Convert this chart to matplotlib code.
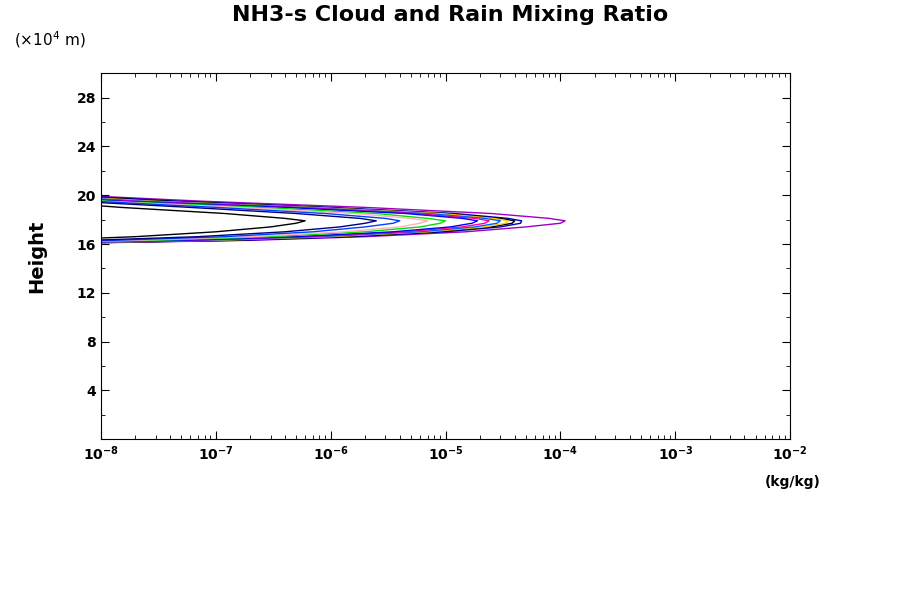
import matplotlib
matplotlib.use("Agg")
import matplotlib.pyplot as plt
from matplotlib.ticker import LogLocator, FixedLocator, NullFormatter

heights = [16.0, 16.1, 16.3, 16.6, 17.0, 17.4, 17.7, 17.9, 18.1, 18.5, 19.0, 19.5, 19.9]
profiles = [
    ("#a000c0", [1e-9, 1e-8, 2e-7, 2e-6, 1.5e-5, 5e-5, 1e-4, 1.1e-4, 8e-5, 2.5e-5, 2e-6, 8e-8, 1e-8]),
    ("#0000c0", [1e-9, 8e-9, 1.5e-7, 1.5e-6, 1e-5, 3e-5, 4.5e-5, 4.6e-5, 3.5e-5, 1.2e-5, 1e-6, 5e-8, 8e-9]),
    ("#000000", [1e-9, 6e-9, 1.2e-7, 1.2e-6, 8e-6, 2.5e-5, 3.8e-5, 4e-5, 3e-5, 1e-5, 8e-7, 4e-8, 6e-9]),
    ("#ffd000", [1e-9, 5e-9, 1e-7, 1e-6, 7e-6, 2.2e-5, 3.3e-5, 3.5e-5, 2.6e-5, 9e-6, 7e-7, 3e-8, 5e-9]),
    ("#0060ff", [1e-9, 4e-9, 8e-8, 8e-7, 6e-6, 1.8e-5, 2.8e-5, 3e-5, 2.2e-5, 7e-6, 6e-7, 2.5e-8, 4e-9]),
    ("#ff00a0", [1e-9, 3e-9, 6e-8, 6e-7, 4.5e-6, 1.4e-5, 2.2e-5, 2.4e-5, 1.8e-5, 5.5e-6, 5e-7, 2e-8, 3e-9]),
    ("#0000ff", [1e-9, 2.5e-9, 5e-8, 5e-7, 3.5e-6, 1.1e-5, 1.7e-5, 1.9e-5, 1.4e-5, 4.5e-6, 4e-7, 1.6e-8, 2.5e-9]),
    ("#00e000", [1e-9, 2e-9, 3e-8, 3e-7, 2e-6, 6e-6, 9e-6, 1e-5, 7e-6, 2.5e-6, 2.5e-7, 1.2e-8, 2e-9]),
    ("#ffb0c0", [1e-9, 1.5e-9, 2e-8, 2e-7, 1.3e-6, 4e-6, 6e-6, 7e-6, 5e-6, 1.6e-6, 1.6e-7, 1e-8, 1.5e-9]),
    ("#0040ff", [1e-9, 1.2e-9, 1.3e-8, 1.2e-7, 7e-7, 2e-6, 3.5e-6, 4e-6, 3e-6, 9e-7, 1e-7, 9e-9, 1.2e-9]),
    ("#000080", [1e-9, 1e-9, 8e-9, 7e-8, 4e-7, 1.2e-6, 2e-6, 2.5e-6, 1.8e-6, 5e-7, 6e-8, 6e-9, 1e-9]),
    ("#000000", [1e-9, 1e-9, 3e-9, 2e-8, 1e-7, 3e-7, 5e-7, 6e-7, 4e-7, 1.2e-7, 1.5e-8, 3e-9, 1e-9]),
]
yticks = [4, 8, 12, 16, 20, 24, 28]

fig = plt.figure(figsize=(9, 6), dpi=100)
ax = fig.add_axes([0.112, 0.268, 0.766, 0.61])
for c, v in profiles:
    ax.plot(v, heights, color=c, lw=1)
ax.set_xscale("log")
ax.set_xlim(1e-8, 1e-2)
ax.set_ylim(0, 30)
ax.yaxis.set_major_locator(FixedLocator(yticks))
ax.yaxis.set_minor_locator(FixedLocator([2, 6, 10, 14, 18, 22, 26, 30]))
ax.xaxis.set_major_locator(LogLocator(base=10, numticks=10))
ax.xaxis.set_minor_locator(LogLocator(base=10, subs=range(2, 10), numticks=100))
ax.xaxis.set_minor_formatter(NullFormatter())
ax.tick_params(which="both", direction="in", top=True, right=True, labelsize=10)
ax.tick_params(which="major", length=6)
ax.tick_params(which="minor", length=3)
for lab in ax.get_xticklabels() + ax.get_yticklabels():
    lab.set_fontweight("bold")
ax.set_ylabel("Height", fontsize=14, fontweight="bold", labelpad=22)
fig.text(0.5, 0.975, "NH3-s Cloud and Rain Mixing Ratio", ha="center", va="center",
         fontsize=16, fontweight="bold")
fig.text(0.015, 0.925, r"($\times10^4$ m)", fontsize=11)
fig.text(0.85, 0.19, "(kg/kg)", fontsize=10, fontweight="bold")
fig.savefig("out.png")
